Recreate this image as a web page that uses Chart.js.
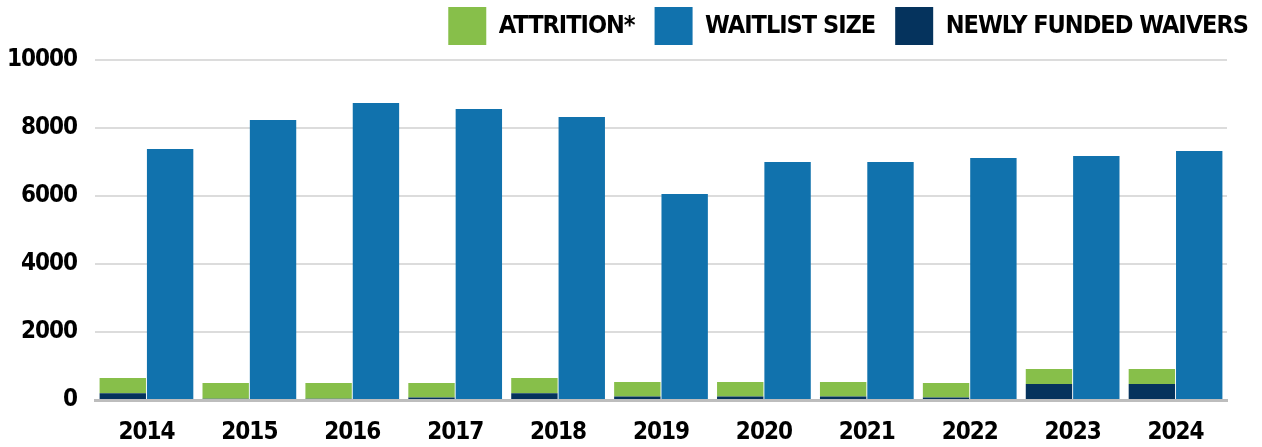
<!DOCTYPE html>
<html lang="en">
<head>
    <meta charset="UTF-8">
    <title>Waitlist Size, Attrition and Newly Funded Waivers</title>
    <script src="https://cdn.jsdelivr.net/npm/chart.js"></script>
    <style>
        html, body {
            margin: 0;
            padding: 0;
            background: #ffffff;
        }
        #chart-container {
            width: 1262px;
            height: 447px;
        }
    </style>
</head>
<body>
    <div id="chart-container">
        <canvas id="waiver-chart"></canvas>
    </div>

    <script>
        // values
        const years = ["2014", "2015", "2016", "2017", "2018", "2019", "2020", "2021", "2022", "2023", "2024"];
        const newlyFunded = [200, 40, 40, 70, 200, 100, 100, 100, 70, 470, 470];
        const attrition = [445, 460, 460, 430, 450, 430, 430, 430, 430, 440, 440];
        const waitlistSize = [7380, 8235, 8735, 8560, 8320, 6060, 7000, 7000, 7120, 7180, 7320];
        const yTicks = [0, 2000, 4000, 6000, 8000, 10000];

        const fontFamily = "'DejaVu Sans Condensed', 'DejaVu Sans', sans-serif";
        // legend reads Attrition, Waitlist, Newly funded
        const legendOrder = [1, 2, 0];

        // the original uses a very narrow display face, so squeeze the letters a bit
        const tightText = {
            id: "tightText",
            beforeUpdate(chart) { chart.ctx.letterSpacing = "-1px"; },
            beforeDraw(chart) { chart.ctx.letterSpacing = "-1px"; }
        };

        const ctx = document.getElementById("waiver-chart").getContext("2d");

        const waiverChart = new Chart(ctx, {
            type: "bar",
            data: {
                labels: years,
                datasets: [
                    { label: "NEWLY FUNDED WAIVERS", data: newlyFunded, backgroundColor: "#05335d", stack: "a" },
                    { label: "ATTRITION*", data: attrition, backgroundColor: "#87bf4a", stack: "a" },
                    { label: "WAITLIST SIZE", data: waitlistSize, backgroundColor: "#1172ad", stack: "b" }
                ]
            },
            plugins: [tightText],
            options: {
                responsive: true,
                maintainAspectRatio: false,
                animation: false,
                datasets: {
                    bar: { categoryPercentage: 0.92, barPercentage: 0.98 }
                },
                layout: { padding: { left: 7, right: -6, top: -13, bottom: 2 } },
                plugins: {
                    tooltip: { enabled: false },
                    legend: {
                        position: "top",
                        align: "end",
                        labels: {
                            boxWidth: 38,
                            boxHeight: 38,
                            padding: 20,
                            color: "#000000",
                            font: { family: fontFamily, size: 25, weight: "bold" },
                            sort: (a, b) => legendOrder.indexOf(a.datasetIndex) - legendOrder.indexOf(b.datasetIndex)
                        }
                    }
                },
                scales: {
                    x: {
                        stacked: true,
                        grid: { display: false, drawTicks: false },
                        border: { display: true, color: "#bdbdbd", width: 3 },
                        ticks: {
                            color: "#000000",
                            padding: 18,
                            font: { family: fontFamily, size: 24, weight: "bold" }
                        },
                        afterFit: axis => { axis.height = 45; }
                    },
                    y: {
                        stacked: true,
                        min: yTicks[0],
                        max: yTicks[yTicks.length - 1],
                        afterBuildTicks: axis => { axis.ticks = yTicks.map(v => ({ value: v })); },
                        grid: { color: "#dcdcdc", lineWidth: 2, drawTicks: false },
                        border: { display: false },
                        ticks: {
                            color: "#000000",
                            padding: 18,
                            font: { family: fontFamily, size: 24, weight: "bold" },
                            callback: value => String(value)
                        },
                        afterFit: axis => { axis.width = 88; }
                    },
                    // empty strips so the plot sits where the original's does
                    spacer: {
                        position: "right",
                        display: true,
                        grid: { display: false },
                        border: { display: false },
                        ticks: { display: false },
                        afterFit: axis => { axis.width = 41; }
                    },
                    spacerTop: {
                        type: "linear",
                        position: "top",
                        display: true,
                        grid: { display: false },
                        border: { display: false },
                        ticks: { display: false },
                        afterFit: axis => { axis.height = 5; }
                    }
                }
            }
        });
    </script>
</body>
</html>
